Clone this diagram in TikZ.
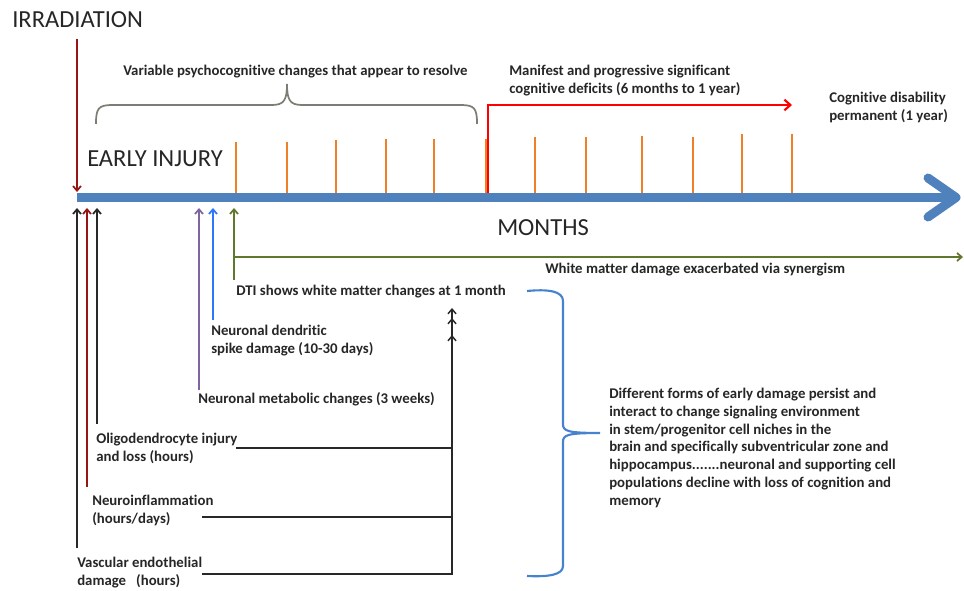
\documentclass[tikz,border=0pt]{standalone}
\usepackage{fontspec}
\setmainfont{Carlito}[Ligatures=CommonOff]
\usetikzlibrary{arrows.meta}
\definecolor{axisblue}{RGB}{79,129,189}
\definecolor{tickorange}{RGB}{240,128,40}
\definecolor{irrred}{RGB}{150,22,22}
\definecolor{bracegray}{RGB}{125,125,115}
\definecolor{purp}{RGB}{128,100,162}
\definecolor{brightblue}{RGB}{45,120,250}
\definecolor{olivegreen}{RGB}{95,120,45}
\definecolor{darkline}{RGB}{40,40,40}
\definecolor{braceblue}{RGB}{70,130,205}
\begin{document}
\begin{tikzpicture}[x=0.75pt,y=-0.75pt,
  lbl/.style={font=\bfseries\fontsize{11.1}{13.4}\selectfont, inner sep=0pt, anchor=base west, align=left, text=black!85},
  big/.style={font=\fontsize{18.4}{22}\selectfont, inner sep=0pt, anchor=base west, text=black!85},
  uparrow/.style={-{Straight Barb[length=3.5pt,width=6pt]}, line width=1.3pt},
  hairline/.style={line width=1.1pt, darkline},
  tickline/.style={line width=1.5pt, tickorange},
  ]
\useasboundingbox (0,0) rectangle (964,591);

% ---- texts (multi-line nodes are placed by the baseline of their last line) ----
\node[big] (irr) at (12,27.3) {IRRADIATION};
\node[big] (early) at (87,166.5) {EARLY INJURY};
\node[big] (months) at (497,236) {MONTHS};
\node[lbl] (variable) at (123,75.5) {Variable psychocognitive changes that appear to resolve};
\node[lbl] (manifest) at (509,93.5) {Manifest and progressive significant\\cognitive deficits (6 months to 1 year)};
\node[lbl] (permanent) at (829,120.5) {Cognitive disability\\permanent (1 year)};
\node[lbl] (synergism) at (545,273.5) {White matter damage exacerbated via synergism};
\node[lbl] (dti) at (236,295.5) {DTI shows white matter changes at 1 month};
\node[lbl] (dendritic) at (211,353.5) {Neuronal dendritic\\spike damage (10-30 days)};
\node[lbl] (metabolic) at (198,403.5) {Neuronal metabolic changes (3 weeks)};
\node[lbl] (oligo) at (96,461.5) {Oligodendrocyte injury\\and loss (hours)};
\node[lbl] (neuroinf) at (92,523.5) {Neuroinflammation\\(hours/days)};
\node[lbl] (vascular) at (77,585) {Vascular endothelial\\damage \ \ (hours)};
\node[lbl] (persist) at (609,505.5) {Different forms of early damage persist and\\interact to change signaling environment\\in stem/progenitor cell niches in the\\brain and specifically subventricular zone and\\hippocampus.......neuronal and supporting cell\\populations decline with loss of cognition and\\memory};

% ---- orange month ticks ----
\foreach \x/\t in {236/142,287/142,336/140,386/139,434/139,486/139,535/137,586/137,642/136,693/137,742/134,792/134}
  \draw[tickline] (\x,\t) -- (\x,196);

% ---- red progressive deficit arrow ----
\coordinate (redstart) at (488,196);
\coordinate (redend) at (792,105);
\draw[red, line width=1.6pt, -{Straight Barb[length=4.5pt,width=8pt]}] (redstart) |- (redend);

% ---- time axis ----
\coordinate (ax0) at (77,197.5);
\coordinate (ax1) at (956,197.5);
\draw[axisblue, line width=6.75pt] (ax0) -- (ax1);
\draw[axisblue, line width=6.75pt, line cap=round, line join=round] (928,178) -- (ax1) -- (928,217);

% ---- irradiation arrow ----
\draw[irrred, uparrow] (77,39) -- (77,192);

% ---- grey brace ----
\draw[bracegray, line width=1.3pt] (96,124) .. controls (96,109) and (98,105) .. (112,105) -- (272,105)
  .. controls (284,105) and (287,100) .. (287,84) .. controls (287,100) and (290,105) .. (302,105)
  -- (461,105) .. controls (475,105) and (477,109) .. (477,124);

% ---- arrows up to the axis ----
\draw[darkline, uparrow] (77,548) -- (77,208);
\draw[irrred, uparrow] (87,487) -- (87,208);
\draw[darkline, uparrow] (97,424) -- (97,208);
\draw[purp, uparrow] (199,390) -- (199,208);
\draw[brightblue, uparrow] (213,320) -- (213,208);
\draw[olivegreen, uparrow] (234,280) -- (234,208);
\coordinate (greenend) at (963,257);
\draw[olivegreen, line width=1.3pt, -{Straight Barb[length=3.5pt,width=6pt]}] (234,257) -- (greenend);

% ---- black collector lines ----
\coordinate (c1) at (452,335);
\coordinate (c2) at (452,318);
\coordinate (c3) at (452,308);
\draw[hairline, -{Straight Barb[length=3.5pt,width=6pt]}] (236,448) -| (c1);
\draw[hairline, -{Straight Barb[length=3.5pt,width=6pt]}] (202,517) -| (c2);
\draw[hairline, -{Straight Barb[length=3.5pt,width=6pt]}] (202,574) -| (c3);

% ---- blue brace ----
\draw[braceblue, line width=1.6pt] (527,291) .. controls (548,289) and (563,291) .. (563,301) -- (563,424)
  .. controls (563,431) and (567,433) .. (600,433)
  .. controls (567,433) and (563,435) .. (563,442) -- (563,566)
  .. controls (563,575) and (548,577) .. (527,576);
\end{tikzpicture}
\end{document}
